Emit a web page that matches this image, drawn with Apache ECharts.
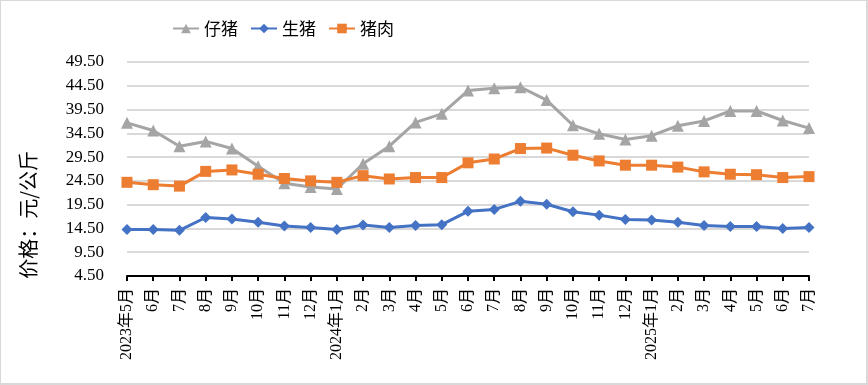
<!DOCTYPE html>
<html><head><meta charset="utf-8">
<script src="https://cdn.jsdelivr.net/npm/echarts@6/dist/echarts.min.js"></script>
<style>
html,body{margin:0;padding:0;background:#fff;}
#c{width:868px;height:385px;box-sizing:border-box;border-style:solid;border-color:#d9d9d9;border-width:1px 2px 2px 1px;}
</style></head><body>
<div id="c"></div>
<script>
const categories = ['2023年5月','6月','7月','8月','9月','10月','11月','12月','2024年1月','2月','3月','4月','5月','6月','7月','8月','9月','10月','11月','12月','2025年1月','2月','3月','4月','5月','6月','7月'];
const piglet = [36.7,35.1,31.8,32.8,31.3,27.6,24.0,23.2,22.8,28.1,31.8,36.8,38.6,43.5,44.0,44.2,41.5,36.2,34.4,33.2,34.0,36.1,37.1,39.2,39.2,37.2,35.6];
const hog = [14.3,14.3,14.1,16.8,16.5,15.8,15.0,14.7,14.3,15.2,14.7,15.1,15.3,18.1,18.5,20.2,19.6,18.0,17.3,16.4,16.3,15.8,15.1,14.9,14.9,14.5,14.7];
const pork = [24.2,23.7,23.4,26.5,26.8,25.9,25.0,24.5,24.2,25.6,24.9,25.2,25.2,28.3,29.1,31.3,31.4,29.9,28.7,27.8,27.8,27.4,26.4,25.9,25.8,25.2,25.4];
const yTickLabels = ['4.50','9.50','14.50','19.50','24.50','29.50','34.50','39.50','44.50','49.50'];
const yMin = 4.5, yMax = 49.5;

const serif = '"Liberation Serif","Noto Sans CJK SC",serif';
const chart = echarts.init(document.getElementById('c'));
function mk(name, data, color, symbol, size){
  return {name, type:'line', data, yAxisIndex:0, symbol, symbolSize:size,
    itemStyle:{color}, lineStyle:{color, width:3}, emphasis:{disabled:true}};
}
chart.setOption({
  animation:false,
  legend:{top:14, left:166, itemWidth:26, itemHeight:12, itemGap:12,
    textStyle:{fontSize:17, color:'#000', fontFamily:'"Noto Sans CJK SC",sans-serif'},
    data:['仔猪','生猪','猪肉']},
  grid:{left:126, right:57, top:61, bottom:107},
  xAxis:{type:'category', data:categories, boundaryGap:false,
    axisLine:{lineStyle:{color:'#000', width:2}},
    axisTick:{show:true, length:5, lineStyle:{color:'#000', width:2}},
    axisLabel:{rotate:90, interval:0, margin:12, fontSize:16, color:'#000', fontFamily:serif},
    splitLine:{show:false}},
  yAxis:[
    {type:'value', min:yMin, max:yMax, show:true, axisLine:{show:false}, axisTick:{show:false},
      axisLabel:{show:false}, splitLine:{show:false}},
    {type:'value', min:0, max:45, interval:5, position:'left',
      axisLine:{show:false}, axisTick:{show:false},
      axisLabel:{margin:23, fontSize:17, color:'#000', fontFamily:serif,
        formatter:(v)=>yTickLabels[Math.round(v/5)]},
      splitLine:{show:true, lineStyle:{color:'#d9d9d9', width:2}}}
  ],
  graphic:[{type:'text', left:17, top:150, rotation:Math.PI/2,
    style:{text:'价格：元/公斤', fontSize:20, fill:'#000', fontFamily:'"Noto Sans CJK SC",sans-serif'}}],
  series:[
    mk('仔猪', piglet, '#A5A5A5', 'triangle', 12),
    mk('生猪', hog, '#4472C4', 'diamond', 11),
    mk('猪肉', pork, '#ED7D31', 'rect', 11)
  ]
});
</script></body></html>
